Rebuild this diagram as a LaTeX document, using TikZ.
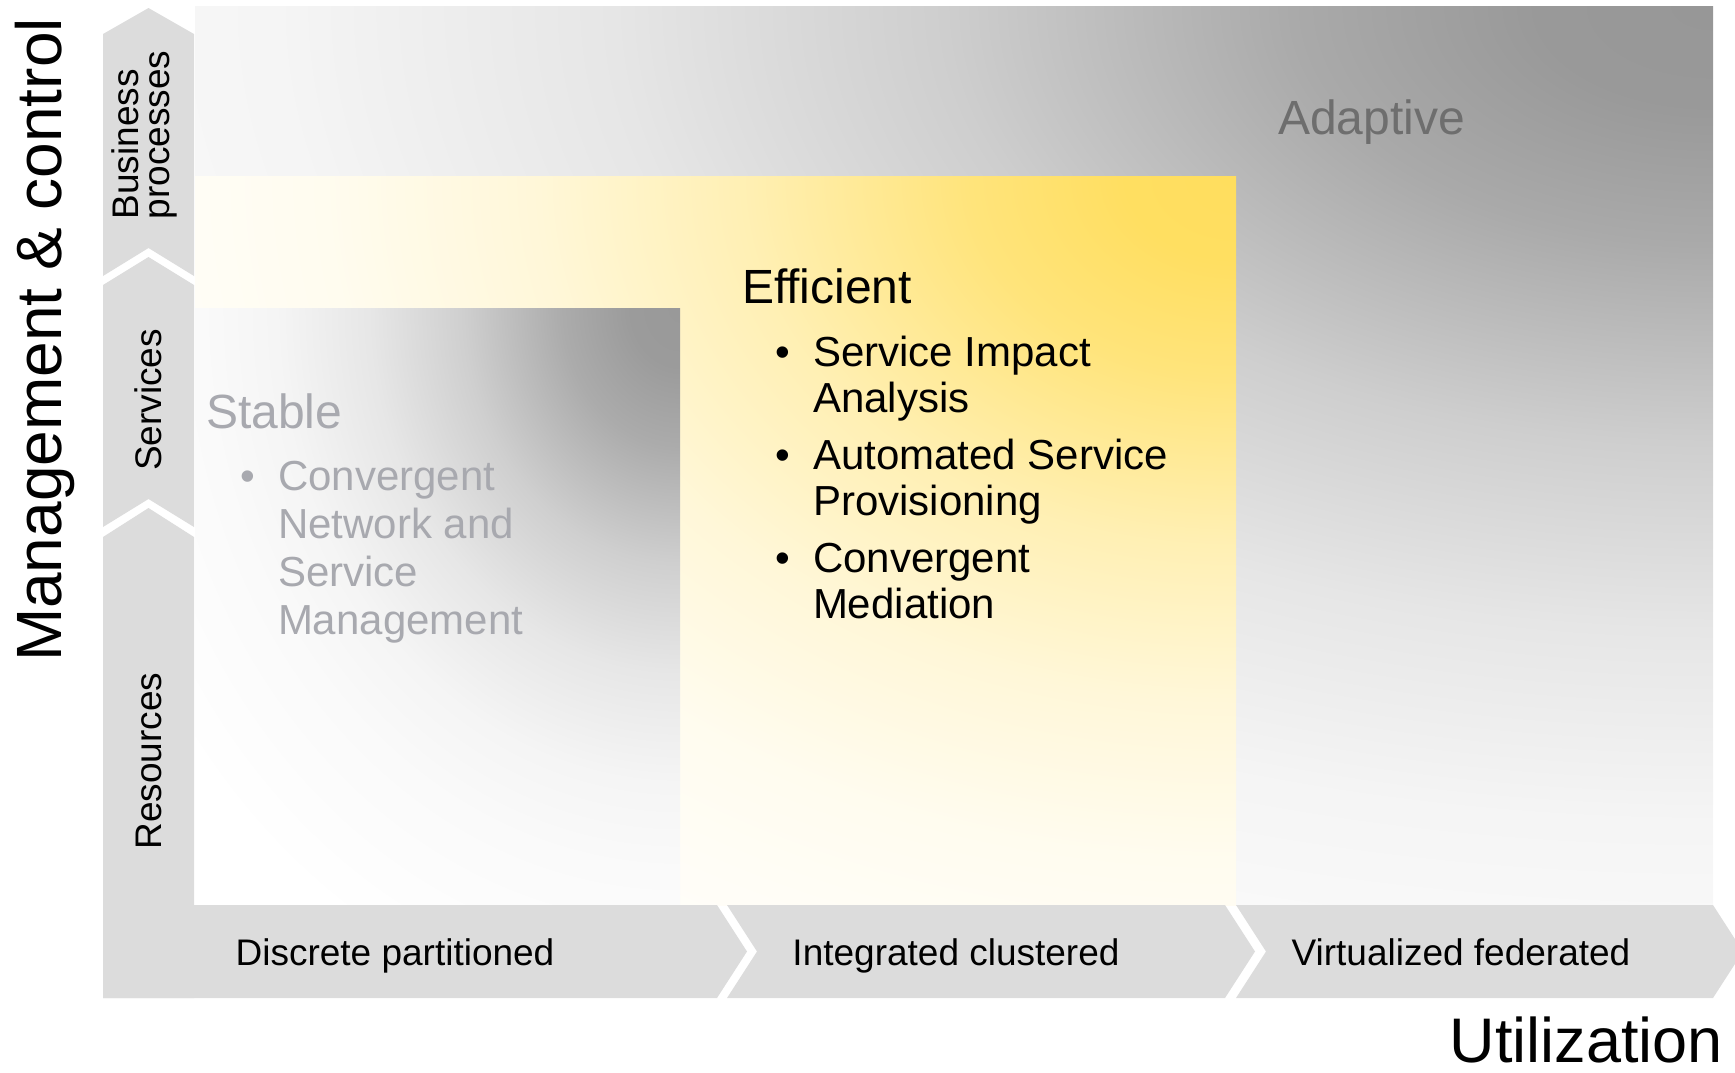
\documentclass[tikz,border=0pt]{standalone}
\usepackage{fontspec}
\setmainfont{Liberation Sans}
\usepackage{tikz}
\definecolor{bargray}{HTML}{DCDCDC}
\definecolor{adaptgray}{HTML}{979797}
\definecolor{effyellow}{HTML}{FFDE5E}
\definecolor{stablegray}{HTML}{999999}
\definecolor{stabletext}{HTML}{A8A9AF}
\definecolor{adapttext}{HTML}{6E6E6E}
\colorlet{fadecolor}{adaptgray}
\pgfdeclareradialshading[fadecolor]{cornerfade}{\pgfpoint{0bp}{0bp}}{%
	color(0bp)=(fadecolor); color(2bp)=(fadecolor!98!white);
	color(4.75bp)=(fadecolor!82!white); color(8.75bp)=(fadecolor!47!white);
	color(12.5bp)=(fadecolor!24!white); color(16.25bp)=(fadecolor!10!white);
	color(19.25bp)=(fadecolor!5!white); color(25bp)=(white); color(50bp)=(white)}
\newcommand*{\lvlfont}{\fontsize{37}{31}\selectfont}
\newcommand*{\headfont}{\fontsize{48}{52}\selectfont}
\newcommand*{\axisfont}{\fontsize{64}{70}\selectfont}
\tikzset{
	every node/.style={inner sep=0pt, outer sep=0pt},
	lvl/.style={font=\lvlfont, rotate=90, align=left},
	stage/.style={font=\lvlfont, anchor=base},
	head/.style={font=\headfont, anchor=base west}
}
\newcommand{\fadebox}[7]{%
	% left, top, right, bottom, colour, x radius, y radius
	\fill[white] (#1,#2) rectangle (#3,#4);
	\begin{scope}
		\clip (#1,#2) rectangle (#3,#4);
		\colorlet{fadecolor}{#5}
		\shade[shading=cornerfade]
		(#3,#2) ellipse [x radius=#6, y radius=#7];
	\end{scope}
}
\newcommand{\bpoint}[5]{%
	% name, x, first baseline, line skip, lines
	\node[anchor=base west, font=\fontsize{42}{#4}\selectfont]
	(#1) at (#2,#3) {\begin{tabular}[t]{@{}l@{}}#5\end{tabular}};
	\node[anchor=base, font=\fontsize{42}{#4}\selectfont]
	(#1-dot) at ([xshift=-30.5pt]#1.base west) {\textbullet};
}

\begin{document}
\begin{tikzpicture}[x=1pt, y=-1pt]
	\useasboundingbox (0,0) rectangle (1735,1072);
	\clip (0,0) rectangle (1735,1072);
	% the three stages
	\fadebox{195}{6}{1713}{905}{adaptgray}{2200}{1250}
	\fadebox{195}{176}{1236}{905}{effyellow}{1400}{1050}
	\fadebox{195}{308}{680}{905}{stablegray}{620}{730}
	% left bar
	\fill[bargray] (103,34) -- (148.5,8) -- (194,34) -- (194,276)
	-- (148.5,248) -- (103,276) -- cycle;
	\fill[bargray] (103,285) -- (148.5,257) -- (194,285) -- (194,527)
	-- (148.5,499) -- (103,527) -- cycle;
	\fill[bargray] (103,537) -- (148.5,508) -- (194,537) -- (194,998)
	-- (103,998) -- cycle;
	% bottom bar
	\fill[bargray] (103,905) -- (717,905) -- (747,951.5) -- (717,998)
	-- (103,998) -- cycle;
	\fill[bargray] (727,905) -- (1225,905) -- (1255,951.5) -- (1225,998)
	-- (727,998) -- (757,951.5) -- cycle;
	\fill[bargray] (1236,905) -- (1713,905) -- (1743,951.5) -- (1713,998)
	-- (1236,998) -- (1266,951.5) -- cycle;
	
	\node[lvl] (business) at (144,135) {Business\\processes};
	\node[lvl, anchor=base] (services) at (161,400) {Services};
	\node[lvl, anchor=base] (resources) at (161,761) {Resources};
	\node[stage] (discrete) at (395,965) {Discrete partitioned};
	\node[stage] (integrated) at (956,965) {Integrated clustered};
	\node[stage] (virtualized) at (1461,965) {Virtualized federated};
	\node[font=\axisfont, rotate=90, anchor=base] (mgmt) at (61,340)
	{Management \& control};
	\node[font=\fontsize{63}{70}\selectfont, anchor=base east] (util)
	at (1723,1062) {Utilization};
	
	\node[head, text=adapttext] (adaptive) at (1278,134) {Adaptive};
	\node[head] (efficient) at (742,303) {Efficient};
	\bpoint{impact}{813}{366}{46.5}{Service Impact\\Analysis}
	\bpoint{provision}{813}{469}{46.5}{Automated Service\\Provisioning}
	\bpoint{mediation}{813}{572}{46.5}{Convergent\\Mediation}
	\begin{scope}[text=stabletext]
		\node[head] (stable) at (206,428) {Stable};
		\bpoint{cnsm}{278}{490}{48}{Convergent\\Network and\\Service\\Management}
	\end{scope}
\end{tikzpicture}
\end{document}
